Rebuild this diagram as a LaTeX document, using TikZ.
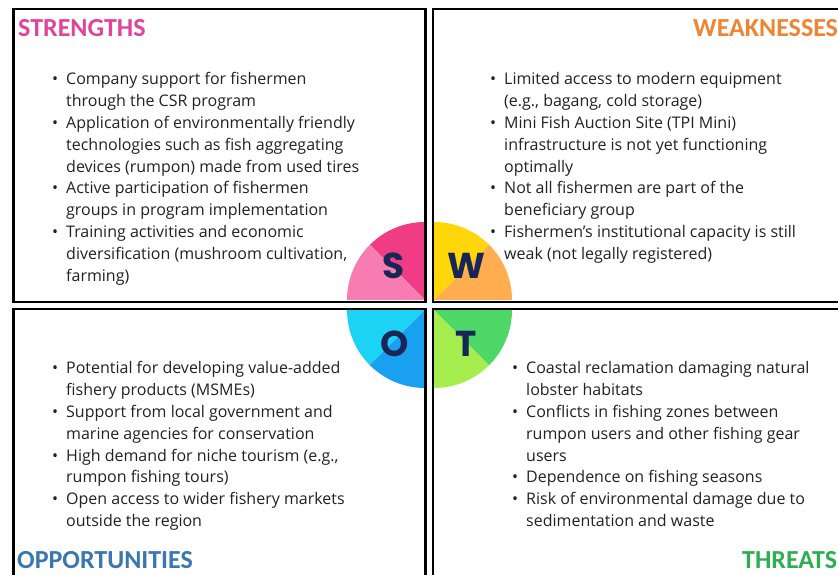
\documentclass[tikz,border=0pt]{standalone}
\usepackage{fontspec}
\setmainfont{Open Sans}
\newfontfamily\titlefont{Carlito}
\newfontfamily\letterfont{Poppins}

\definecolor{sdark}{HTML}{F03C84}
\definecolor{slight}{HTML}{F77CB1}
\definecolor{wyellow}{HTML}{FFD60A}
\definecolor{worange}{HTML}{FFAD4F}
\definecolor{ocyan}{HTML}{1CD3F6}
\definecolor{oblue}{HTML}{1AA0F0}
\definecolor{tlight}{HTML}{A6EE4E}
\definecolor{tgreen}{HTML}{4DD766}
\definecolor{navy}{HTML}{182656}
\definecolor{spink}{HTML}{E2449C}
\definecolor{worangetitle}{HTML}{EE8535}
\definecolor{oblueTitle}{HTML}{3B76B0}
\definecolor{tgreenTitle}{HTML}{2EAE52}
\definecolor{bodytext}{HTML}{222222}

\newcommand\listbullet{\makebox[14pt]{\textbullet}}

\begin{document}
\begin{tikzpicture}[x=1pt,y=1pt,
  frame/.style={draw=black, line width=2.6pt},
  heading/.style={font=\titlefont\bfseries\fontsize{26}{30}\selectfont, inner sep=0pt, anchor=base west},
  letter/.style={font=\letterfont\bfseries\fontsize{36}{40}\selectfont, text=navy, inner sep=0pt},
  bulletlist/.style={font=\fontsize{16}{21.8}\selectfont, text=bodytext, inner sep=0pt, anchor=base west, align=left}]

% page area
\clip (0,0) rectangle (838,575);
\fill[white] (0,0) rectangle (838,575);

% centre pie: four quarter sectors, each split in two shades
\coordinate (sc) at (425,275);
\coordinate (wc) at (434,275);
\coordinate (oc) at (425,265);
\coordinate (tc) at (434,265);
\def\pr{78pt}
\fill[sdark]   (sc) -- ++(90:\pr)  arc[start angle=90,  end angle=135, radius=\pr] -- cycle;
\fill[slight]  (sc) -- ++(135:\pr) arc[start angle=135, end angle=180, radius=\pr] -- cycle;
\fill[worange] (wc) -- ++(0:\pr)   arc[start angle=0,   end angle=45,  radius=\pr] -- cycle;
\fill[wyellow] (wc) -- ++(45:\pr)  arc[start angle=45,  end angle=90,  radius=\pr] -- cycle;
\fill[ocyan]   (oc) -- ++(180:\pr) arc[start angle=180, end angle=225, radius=\pr] -- cycle;
\fill[oblue]   (oc) -- ++(225:\pr) arc[start angle=225, end angle=270, radius=\pr] -- cycle;
\fill[tlight]  (tc) -- ++(270:\pr) arc[start angle=270, end angle=315, radius=\pr] -- cycle;
\fill[tgreen]  (tc) -- ++(315:\pr) arc[start angle=315, end angle=360, radius=\pr] -- cycle;

% quadrant frames
\draw[frame] (13.5,566) rectangle (425.5,273);
\draw[frame] (433,566) rectangle (860,273);
\draw[frame] (13.5,266) rectangle (425.5,-20);
\draw[frame] (433,266) rectangle (860,-20);

% pie letters
\node[letter] (ls) at (394,309) {S};
\node[letter] (lw) at (466.5,309) {W};
\node[letter] (lo) at (395,231) {O};
\node[letter] (lt) at (466.5,231) {T};

% quadrant headings
\node[heading, text=spink] (hs) at (18,538) {STRENGTHS};
\node[heading, text=worangetitle] (hw) at (693,538) {WEAKNESSES};
\node[heading, text=oblueTitle] (ho) at (17,6) {OPPORTUNITIES};
\node[heading, text=tgreenTitle] (ht) at (742,6) {THREATS};

% bullet lists
\node[bulletlist] (strengths) at (48,490) {\begin{tabular}[t]{@{}l@{\hspace{4pt}}l@{}}
\listbullet & Company support for fishermen\\
 & through the CSR program\\
\listbullet & Application of environmentally friendly\\
 & technologies such as fish aggregating\\
 & devices (rumpon) made from used tires\\
\listbullet & Active participation of fishermen\\
 & groups in program implementation\\
\listbullet & Training activities and economic\\
 & diversification (mushroom cultivation,\\
 & farming)
\end{tabular}};

\node[bulletlist] (weaknesses) at (486,490) {\begin{tabular}[t]{@{}l@{\hspace{4pt}}l@{}}
\listbullet & Limited access to modern equipment\\
 & (e.g., bagang, cold storage)\\
\listbullet & Mini Fish Auction Site (TPI Mini)\\
 & infrastructure is not yet functioning\\
 & optimally\\
\listbullet & Not all fishermen are part of the\\
 & beneficiary group\\
\listbullet & Fishermen's institutional capacity is still\\
 & weak (not legally registered)
\end{tabular}};

\node[bulletlist] (opportunities) at (48,201) {\begin{tabular}[t]{@{}l@{\hspace{4pt}}l@{}}
\listbullet & Potential for developing value-added\\
 & fishery products (MSMEs)\\
\listbullet & Support from local government and\\
 & marine agencies for conservation\\
\listbullet & High demand for niche tourism (e.g.,\\
 & rumpon fishing tours)\\
\listbullet & Open access to wider fishery markets\\
 & outside the region
\end{tabular}};

\node[bulletlist] (threats) at (508,201) {\begin{tabular}[t]{@{}l@{\hspace{4pt}}l@{}}
\listbullet & Coastal reclamation damaging natural\\
 & lobster habitats\\
\listbullet & Conflicts in fishing zones between\\
 & rumpon users and other fishing gear\\
 & users\\
\listbullet & Dependence on fishing seasons\\
\listbullet & Risk of environmental damage due to\\
 & sedimentation and waste
\end{tabular}};
\end{tikzpicture}
\end{document}
